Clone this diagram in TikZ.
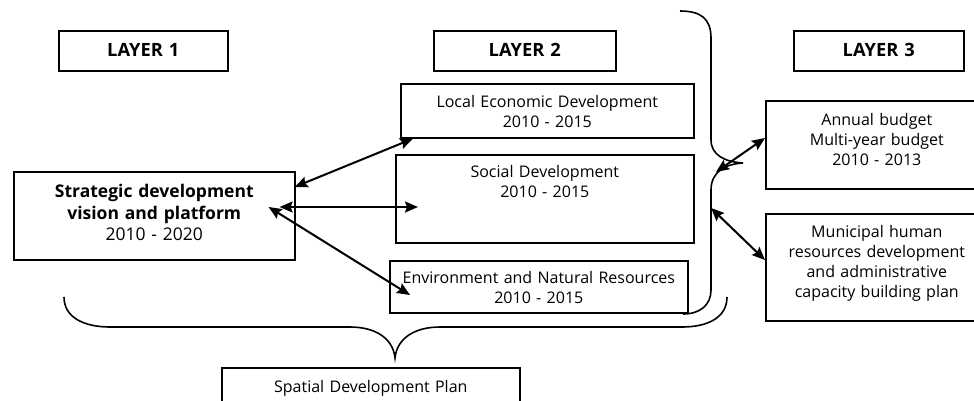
\documentclass[tikz,border=0pt]{standalone}
\usepackage{fontspec}
\setmainfont{Open Sans}
\usepackage{xcolor}
\usepackage{tikz}
\usetikzlibrary{calc,arrows.meta}

\tikzset{
  planbox/.style={draw, line width=1.6pt, rectangle, anchor=north west, inner sep=0pt, align=center,
    font=\fontsize{16}{20}\selectfont},
  headbox/.style={planbox, font=\fontsize{18.3}{20}\selectfont\bfseries, text height=26pt, text depth=14pt},
  link/.style={line width=2pt, {Stealth[length=13pt,width=11pt,inset=2pt]}-{Stealth[length=13pt,width=11pt,inset=2pt]}},
  brace/.style={line width=1.6pt}
}

\begin{document}
\begin{tikzpicture}[x=1pt, y=-1pt]
  \useasboundingbox (0,0) rectangle (974,400);
  \fill[white] (0,0) rectangle (974,400);
  \clip (0,0) rectangle (974,400);

  % layer headings
  \foreach \n/\xpos/\w in {1/58/169, 2/433/182, 3/793/170} {
    \node[headbox, text width=\w pt] (lay\n) at (\xpos,30) {LAYER \n};
  }

  % layer 1
  \node[planbox, text width=281pt, text height=26pt, text depth=62pt,
    font=\fontsize{17.5}{21.5}\selectfont] (vision) at (13,171)
    {\textbf{Strategic development}\\\textbf{vision and platform}\\2010 - 2020};

  % layer 2
  \node[planbox, text width=293pt, text height=24pt, text depth=30pt] (led) at (400,83)
    {Local Economic Development\\2010 - 2015};
  \node[planbox, text width=298pt, text height=23pt, text depth=65pt] (social) at (395,154)
    {Social Development\\2010 - 2015};
  \node[planbox, text width=298pt, text height=23pt, text depth=29pt] (envnr) at (389,260)
    {Environment and Natural Resources\\2010 - 2015};

  % layer 3
  \node[planbox, text width=222pt, text height=25pt, text depth=63pt] (budget) at (765,100)
    {Annual budget\\Multi-year budget\\2010 - 2013};
  \node[planbox, text width=222pt, text height=24pt, text depth=83pt] (hrplan) at (765,213)
    {Municipal human\\resources development\\and administrative\\capacity building plan};

  % spatial plan
  \node[planbox, text width=298pt, text height=25pt, text depth=35pt] (spatial) at (221,367)
    {Spatial Development Plan};

  % braces
  \draw[brace] (680,11) .. controls (700,11) and (711,18) .. (711,38) -- (711,140)
    .. controls (711,155) and (725,162) .. (743,163)
    .. controls (725,164) and (711,172) .. (711,190) -- (711,290)
    .. controls (711,305) and (700,314) .. (683,314);
  \draw[brace] (64,297) .. controls (64,318) and (85,327) .. (110,327) -- (350,327)
    .. controls (375,327) and (393,338) .. (395,358)
    .. controls (397,338) and (415,327) .. (440,327) -- (682,327)
    .. controls (707,327) and (727,318) .. (727,297);
  \coordinate (budgetin) at (716,172);
  \coordinate (hrin) at (711,208);

  % links
  \draw[link] ($(vision.north east)+(-1,16)$) -- ($(led.south west)+(13,0)$);
  \draw[link] ($(vision.north east)+(-16,36)$) -- ($(social.north west)+(23,53)$);
  \draw[link] ($(vision.north east)+(-27,36)$) -- ($(envnr.north west)+(21,35)$);
  \draw[link] ($(budget.north west)+(0,38)$) -- (budgetin);
  \draw[link] ($(hrplan.north west)+(0,47)$) -- (hrin);
\end{tikzpicture}
\end{document}
